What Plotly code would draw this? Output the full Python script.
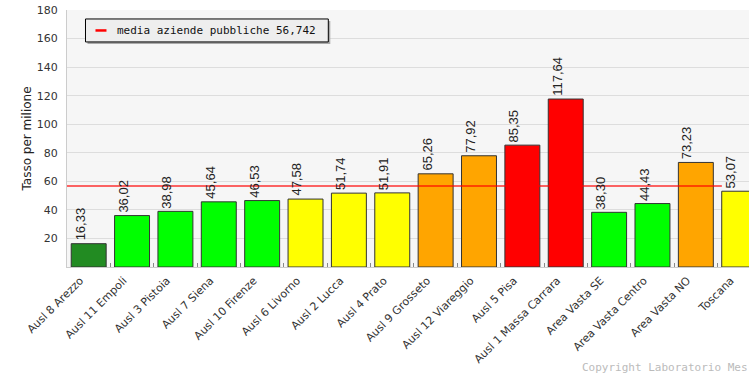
import plotly.graph_objects as go

categories = ["Ausl 8 Arezzo", "Ausl 11 Empoli", "Ausl 3 Pistoia", "Ausl 7 Siena",
              "Ausl 10 Firenze", "Ausl 6 Livorno", "Ausl 2 Lucca", "Ausl 4 Prato",
              "Ausl 9 Grosseto", "Ausl 12 Viareggio", "Ausl 5 Pisa", "Ausl 1 Massa Carrara",
              "Area Vasta SE", "Area Vasta Centro", "Area Vasta NO", "Toscana"]
values = [16.33, 36.02, 38.98, 45.64, 46.53, 47.58, 51.74, 51.91,
          65.26, 77.92, 85.35, 117.64, 38.30, 44.43, 73.23, 53.07]
bar_colors = ["#228B22", "#00FF00", "#00FF00", "#00FF00", "#00FF00", "#FFFF00", "#FFFF00", "#FFFF00",
              "#FFA500", "#FFA500", "#FF0000", "#FF0000", "#00FF00", "#00FF00", "#FFA500", "#FFFF00"]
media_value = 56.742
media_label = "media aziende pubbliche 56,742"
y_ticks = [20, 40, 60, 80, 100, 120, 140, 160, 180]
copyright_text = "Copyright Laboratorio Mes"

labels = [f"{v:.2f}".replace(".", ",") for v in values]

W, H = 749, 374
ml, mt, mb, mr = 66.5, 10, 106.5, 0
pw, ph = W - ml - mr, H - mt - mb
step = 43.4
label_offset_px = 8.5
d = label_offset_px / step
x_range = [-0.5, -0.5 + pw / step]

def px_x(x):
    return (x - ml) / pw

def px_y(y):
    return 1 - (y - mt) / ph

fig = go.Figure()
fig.add_trace(go.Bar(
    x=categories, y=values,
    marker=dict(color=bar_colors, line=dict(color="#333333", width=1)),
    showlegend=False, hoverinfo="x+y",
))
# invisible trace to drive the label axis
fig.add_trace(go.Scatter(x=categories, y=values, xaxis="x2", yaxis="y", mode="markers",
                         marker=dict(opacity=0), hoverinfo="skip", showlegend=False))

# value labels above bars
for c, v, t in zip(categories, values, labels):
    fig.add_annotation(x=c, y=v, xref="x", yref="y", text=t, textangle=-90,
                       showarrow=False, xanchor="center", yanchor="bottom",
                       yshift=1, xshift=-label_offset_px,
                       font=dict(family="Liberation Sans, Arial, sans-serif", size=13, color="#222222"))

# average line
fig.add_shape(type="line", xref="x", yref="y", x0=-0.5, x1=14.6,
              y0=media_value, y1=media_value,
              line=dict(color="rgba(255,0,0,0.6)", width=2), layer="above")

# legend box (manual)
bx0, by0, bx1, by1 = 85, 19, 328, 42
fig.add_shape(type="rect", xref="paper", yref="paper",
              x0=px_x(bx0 + 2), x1=px_x(bx1 + 2), y0=px_y(by1 + 2), y1=px_y(by0 + 2),
              fillcolor="#aaaaaa", line=dict(width=0), layer="above")
fig.add_shape(type="rect", xref="paper", yref="paper",
              x0=px_x(bx0), x1=px_x(bx1), y0=px_y(by1), y1=px_y(by0),
              fillcolor="#eeeeee", line=dict(color="#000000", width=1), layer="above")
fig.add_shape(type="line", xref="paper", yref="paper",
              x0=px_x(95), x1=px_x(106), y0=px_y(30.5), y1=px_y(30.5),
              line=dict(color="#FF0000", width=2.5), layer="above")
fig.add_annotation(xref="paper", yref="paper", x=px_x(115), y=px_y(30.5),
                   xanchor="left", yanchor="middle", showarrow=False,
                   text=media_label,
                   font=dict(family="DejaVu Sans Mono, monospace", size=11, color="#111111"))

# copyright
fig.add_annotation(xref="paper", yref="paper", x=px_x(580), y=px_y(368),
                   xanchor="left", yanchor="middle", showarrow=False,
                   text=copyright_text,
                   font=dict(family="DejaVu Sans Mono, monospace", size=11, color="#bbbbbb"))

fig.update_layout(
    width=W, height=H,
    margin=dict(l=ml, r=mr, t=mt, b=mb, pad=0),
    paper_bgcolor="#ffffff", plot_bgcolor="#f6f6f6",
    bargap=0.194,
    xaxis=dict(range=x_range, showticklabels=False,
               showline=True, linecolor="#cccccc", linewidth=1,
               ticks="inside", tickson="boundaries", ticklen=4, tickcolor="#888888",
               showgrid=False, fixedrange=True),
    xaxis2=dict(overlaying="x", anchor="y", side="bottom",
                range=[x_range[0] + d, x_range[1] + d], tickangle=-45,
                tickfont=dict(family="DejaVu Sans, Verdana, sans-serif", size=11, color="#333333"),
                ticks="", showline=False, showgrid=False, zeroline=False,
                ticklabelstandoff=4, fixedrange=True),
    yaxis=dict(range=[0, 180], tickvals=y_ticks, ticktext=[str(t) for t in y_ticks],
               tickfont=dict(family="DejaVu Sans, Verdana, sans-serif", size=11, color="#333333"),
               gridcolor="#dddddd", gridwidth=1, showline=True, linecolor="#cccccc",
               zeroline=False, ticks="", ticklabelstandoff=6,
               title=dict(text="Tasso per milione", standoff=2,
                          font=dict(family="DejaVu Sans, Verdana, sans-serif", size=12, color="#222222"))),
    font=dict(family="DejaVu Sans, sans-serif"),
)

fig.write_html("out.html")
